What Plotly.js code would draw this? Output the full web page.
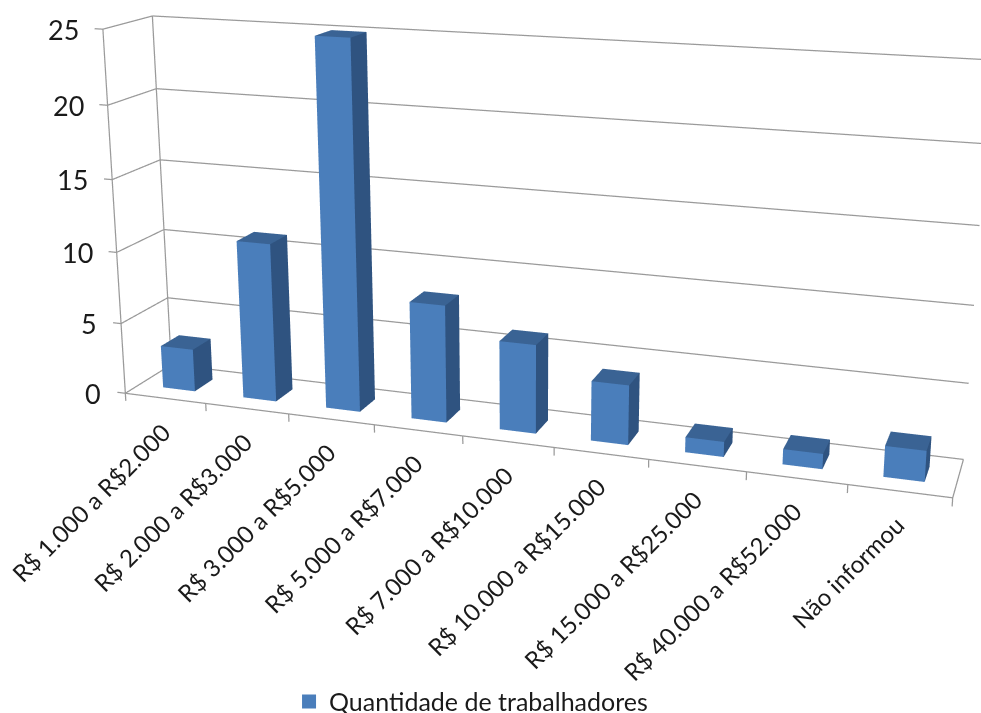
<!DOCTYPE html>
<html><head><meta charset="utf-8">
<script src="https://cdn.plot.ly/plotly-3.0.1.min.js"></script>
<style>html,body{margin:0;padding:0;background:#fff;overflow:hidden}
#w{position:absolute;left:0;top:0;width:981px;height:713px;overflow:hidden}
#c{position:absolute;left:-76px;top:-508px;width:1200px;height:1500px}</style></head>
<body><div id="w"><div id="c"></div></div>
<script>
const categories = ["R$ 1.000 a R$2.000","R$ 2.000 a R$3.000","R$ 3.000 a R$5.000","R$ 5.000 a R$7.000","R$ 7.000 a R$10.000","R$ 10.000 a R$15.000","R$ 15.000 a R$25.000","R$ 40.000 a R$52.000","Não informou"];
const values = [3,11,25,8,6,4,1,1,2];
const zTicks = [0,5,10,15,20,25];
const seriesName = "Quantidade de trabalhadores";
const FRONT="#4a7ebb", TOP="#3a6394", SIDE="#2f5380", LINE="#9a9a9a", TXT="#1a1a1a";
const FONT="Lato";
const N=categories.length, zMax=25;
const halfW=0.2, y0=0.3, y1=0.7;
const X=[],Y=[],Z=[],I=[],J=[],K=[],FC=[];
values.forEach((v,n)=>{
  const c=n+0.5, b=X.length;
  [[c-halfW,y0,0],[c+halfW,y0,0],[c+halfW,y1,0],[c-halfW,y1,0],[c-halfW,y0,v],[c+halfW,y0,v],[c+halfW,y1,v],[c-halfW,y1,v]].forEach(p=>{X.push(p[0]);Y.push(p[1]);Z.push(p[2]);});
  [[0,1,5,FRONT],[0,5,4,FRONT],[1,2,6,SIDE],[1,6,5,SIDE],[4,5,6,TOP],[4,6,7,TOP]].forEach(f=>{I.push(b+f[0]);J.push(b+f[1]);K.push(b+f[2]);FC.push(f[3]);});
});
const mesh={type:"mesh3d",x:X,y:Y,z:Z,i:I,j:J,k:K,facecolor:FC,flatshading:true,name:seriesName,showlegend:false,hoverinfo:"skip",
  lighting:{ambient:1,diffuse:0,specular:0,fresnel:0,roughness:1},showscale:false};
const lx=[],ly=[],lz=[];
function seg(a,b){lx.push(a[0],b[0],null);ly.push(a[1],b[1],null);lz.push(a[2],b[2],null);}
zTicks.forEach(t=>{seg([-0.1,0,t],[0,0,t]);seg([0,0,t],[0,1,t]);seg([0,1,t],[N,1,t]);});
seg([0,0,0],[0,0,zMax]);seg([0,1,0],[0,1,zMax]);
seg([0,0,0],[N,0,0]);seg([N,0,0],[N,1,0]);
for(let n=0;n<=N;n++)seg([n,0,0],[n,0,-0.55]);
const frame={type:"scatter3d",mode:"lines",x:lx,y:ly,z:lz,line:{color:LINE,width:2.5},showlegend:false,hoverinfo:"skip"};
const legendItem={type:"scatter3d",mode:"markers",x:[null],y:[null],z:[null],name:seriesName,marker:{symbol:"square",size:14,color:FRONT},showlegend:true,hoverinfo:"skip"};
const ann=[];
categories.forEach((t,n)=>ann.push({x:n+0.5,y:0,z:0,text:t,showarrow:false,textangle:-45,xanchor:"right",yanchor:"top",xshift:13,yshift:-16,font:{family:FONT,size:24,color:TXT}}));
zTicks.forEach(t=>ann.push({x:0,y:0,z:t,text:String(t),showarrow:false,xanchor:"right",yanchor:"middle",xshift:-22,font:{family:FONT,size:27,color:TXT}}));
const ax={showbackground:false,showgrid:false,showline:false,zeroline:false,showticklabels:false,showspikes:false,title:{text:""},ticks:""};
const layout={width:1200,height:1500,margin:{l:0,r:0,t:0,b:0},paper_bgcolor:"#fff",showlegend:true,
 legend:{orientation:"h",x:0.3042,xanchor:"left",y:0.1935,yanchor:"middle",bgcolor:"rgba(0,0,0,0)",font:{family:FONT,size:25,color:TXT}},
 scene:{domain:{x:[0,1],y:[0,1]},
  xaxis:Object.assign({},ax,{range:[-0.25,N+0.25]}),
  yaxis:Object.assign({},ax,{range:[-0.05,1.05]}),
  zaxis:Object.assign({},ax,{range:[-0.8,25.5]}),
  aspectmode:"manual",aspectratio:{x:2.04,y:0.241,z:0.917},
  camera:{eye:{x:1.243,y:-3.654,z:1.056},center:{x:0,y:0,z:0},up:{x:-0.004,y:0,z:1}},
  annotations:ann}};
Plotly.newPlot("c",[mesh,frame,legendItem],layout,{displayModeBar:false});
</script></body></html>
